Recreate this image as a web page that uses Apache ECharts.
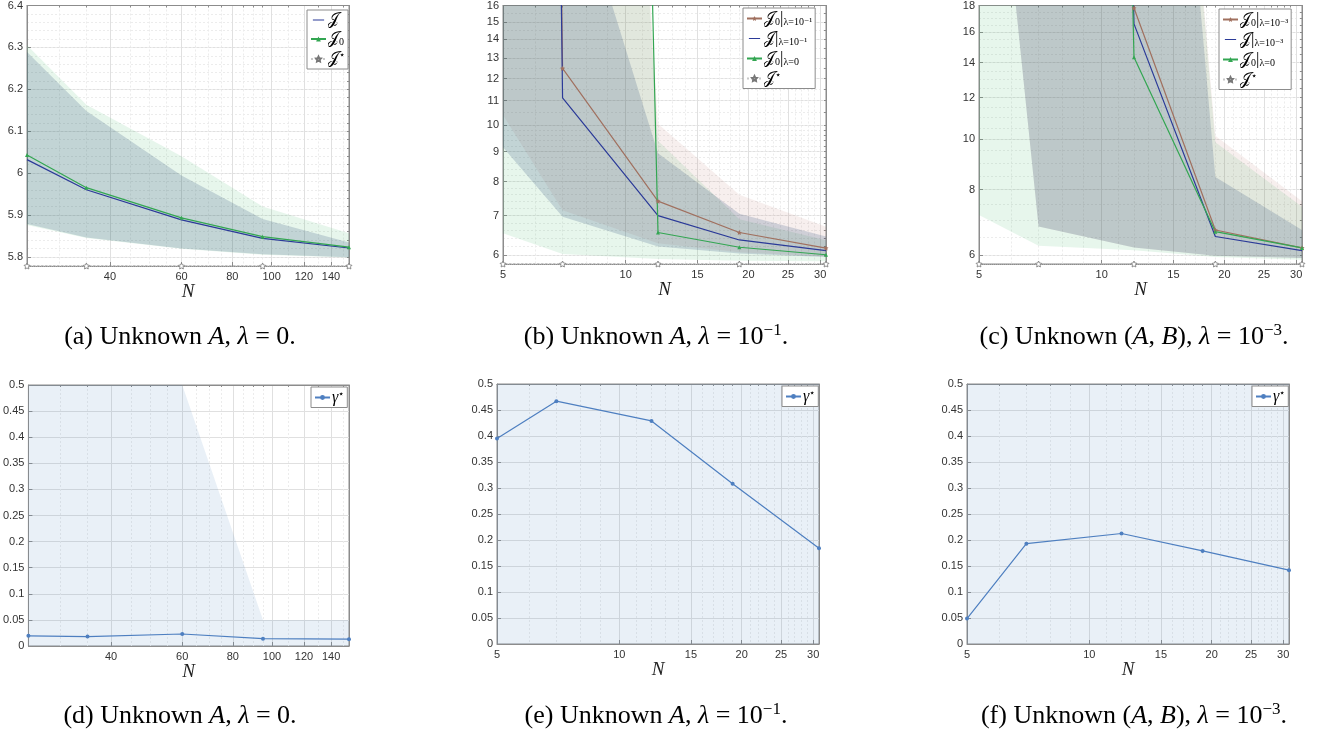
<!DOCTYPE html>
<html lang="en">
<head>
<meta charset="UTF-8">
<title>Cost versus N</title>
<script src="https://cdn.jsdelivr.net/npm/echarts@6/dist/echarts.min.js"></script>
<style>
    html, body { margin: 0; padding: 0; background: #fff; }
    #main { width: 1320px; height: 735px; }
</style>
</head>
<body>
<div id="main"></div>
<script type="text/javascript">
    // sample sizes N of each column
    var nA = [25, 35, 60, 95, 155];
    var nB = [5, 7, 12, 19, 31];
    var nC = [5, 7, 12, 19, 31];

    // (a) unknown A, lambda = 0
    var jA = [6.032, 5.960, 5.888, 5.844, 5.821];
    var j0A = [6.043, 5.965, 5.893, 5.848, 5.823];
    var jLoA = [5.878, 5.846, 5.820, 5.806, 5.799];
    var jHiA = [6.289, 6.148, 5.994, 5.890, 5.834];
    var j0LoA = [5.876, 5.845, 5.819, 5.805, 5.798];
    var j0HiA = [6.305, 6.163, 6.040, 5.920, 5.856];
    var jStarA = [5.778, 5.778, 5.778, 5.778, 5.778];

    // (b) unknown A, lambda = 1e-1 (values far above the axis are off-chart)
    var j0RegB = [1e9, 12.49, 7.41, 6.55, 6.16];
    var jRegB = [1e9, 11.12, 7.00, 6.36, 6.10];
    var j0B = [1e9, 5e7, 6.55, 6.18, 6.00];
    var j0RegLoB = [10.4, 7.15, 6.28, 6.06, 5.96];
    var j0RegHiB = [1e9, 4200, 10.05, 7.60, 6.70];
    var jRegLoB = [9.16, 6.97, 6.20, 6.03, 5.95];
    var jRegHiB = [1e9, 30, 8.95, 7.05, 6.45];
    var j0LoB = [6.53, 6.02, 5.90, 5.86, 5.85];
    var j0HiB = [1e9, 4200, 9.40, 6.90, 6.35];
    var jStarB = [5.786, 5.786, 5.786, 5.786, 5.786];

    // (c) unknown (A, B), lambda = 1e-3
    var j0RegC = [1e9, 1e9, 17.8, 6.70, 6.19];
    var jRegC = [1e9, 1e9, 16.6, 6.51, 6.12];
    var j0C = [1e9, 1e9, 14.34, 6.65, 6.19];
    var j0RegLoC = [87, 6.80, 6.20, 5.98, 5.92];
    var j0RegHiC = [1e5, 1e4, 600, 10.15, 7.60];
    var jRegLoC = [87, 6.80, 6.20, 5.98, 5.92];
    var jRegHiC = [1e5, 1e4, 490, 8.46, 6.70];
    var j0LoC = [7.16, 6.25, 6.13, 5.95, 5.88];
    var j0HiC = [1e4, 1e4, 600, 9.86, 7.42];
    var jStarC = [5.768, 5.768, 5.768, 5.768, 5.768];

    // (d)-(f) gamma star
    var gA = [0.0195, 0.018, 0.023, 0.014, 0.013];
    var gLoA = [0, 0, 0, 0, 0];
    var gHiA = [0.5, 0.5, 0.5, 0.05, 0.05];
    var gB = [0.395, 0.467, 0.429, 0.308, 0.184];
    var gLoB = [0, 0, 0, 0, 0];
    var gHiB = [0.5, 0.5, 0.5, 0.5, 0.5];
    var gC = [0.049, 0.193, 0.2125, 0.179, 0.142];
    var gLoC = [0, 0, 0, 0, 0];
    var gHiC = [0.5, 0.5, 0.5, 0.5, 0.5];

    // tick labels
    var xTicksA = [40, 60, 80, 100, 120, 140];
    var xMinorA = [30, 35, 45, 50, 55, 65, 70, 75, 85, 90, 95, 110, 130, 150];
    var xTicksB = [5, 10, 15, 20, 25, 30];
    var xMinorB = [6, 7, 8, 9, 11, 12, 13, 14, 16, 17, 18, 19, 21, 22, 23, 24, 26, 27, 28, 29, 31];
    var yTicksA = [5.8, 5.9, 6.0, 6.1, 6.2, 6.3, 6.4];
    var yTicksB = [6, 7, 8, 9, 10, 11, 12, 13, 14, 15, 16];
    var yTicksC = [6, 8, 10, 12, 14, 16, 18];
    var yTicksG = [0, 0.05, 0.1, 0.15, 0.2, 0.25, 0.3, 0.35, 0.4, 0.45, 0.5];

    var SERIF = '"Liberation Serif", "DejaVu Serif", serif';
    var SANS = '"Liberation Sans", Arial, sans-serif';
    var AX = '#8c8c8c', MAJ = '#e0e0e0', MIN = '#ececec';
    var C_J = '#2b3a98', C_J0 = '#33a652', C_REG = '#a0705f', C_G = '#4e7fc0';
    var F_J = 'rgba(30,60,110,0.18)', F_J0 = 'rgba(60,180,100,0.12)', F_REG = 'rgba(180,100,90,0.10)';
    var F_G = 'rgba(74,128,192,0.12)';
    var STAR = 'path://M0,-10L2.9,-4L9.5,-3.1L4.8,1.5L5.9,8.1L0,5L-5.9,8.1L-4.8,1.5L-9.5,-3.1L-2.9,-4Z';
    // legend icon for a plain line (thin bar in the middle of the icon box)
    var LINE_ICON = 'path://M0,3.2H15V4.8H0Z M0,0H0.01V0.01H0Z M0,8H0.01V8.01H0Z';

    function lg(v) { return Math.log10(v); }
    function id(v) { return v; }
    function steps(a, b, s) {
        var out = [];
        for (var v = a; v <= b + 1e-9; v += s) out.push(+v.toFixed(4));
        return out;
    }

    var panels = [
        {grid: {left: 27, top: 5, width: 322, height: 261}, xs: nA, xTicks: xTicksA, xMinor: xMinorA,
         logY: false, yMin: 5.778, yMax: 6.4, yTicks: yTicksA, yMinor: steps(5.78, 6.4, 0.02)},
        {grid: {left: 503, top: 4, width: 323, height: 260}, xs: nB, xTicks: xTicksB, xMinor: xMinorB,
         logY: true, yMin: 5.786, yMax: 16, yTicks: yTicksB, yMinor: steps(5.8, 10, 0.2).concat(steps(10.5, 16, 0.5))},
        {grid: {left: 979, top: 4, width: 323, height: 260}, xs: nC, xTicks: xTicksB, xMinor: xMinorB,
         logY: true, yMin: 5.768, yMax: 18, yTicks: yTicksC, yMinor: steps(6, 18, 0.5)},
        {grid: {left: 27, top: 385, width: 322, height: 261}, xs: nA, xTicks: xTicksA, xMinor: xMinorA,
         logY: false, yMin: 0, yMax: 0.5, yTicks: yTicksG, yMinor: []},
        {grid: {left: 497, top: 384, width: 322, height: 260}, xs: nB, xTicks: xTicksB, xMinor: xMinorB,
         logY: false, yMin: 0, yMax: 0.5, yTicks: yTicksG, yMinor: []},
        {grid: {left: 967, top: 384, width: 322, height: 260}, xs: nC, xTicks: xTicksB, xMinor: xMinorB,
         logY: false, yMin: 0, yMax: 0.5, yTicks: yTicksG, yMinor: []}
    ];

    var grids = [], xAxes = [], yAxes = [], series = [], legends = [];

    panels.forEach(function (p, i) {
        var fy = p.logY ? lg : id;
        grids.push(Object.assign({show: true, borderColor: AX, borderWidth: 1, containLabel: false}, p.grid));
        xAxes.push({
            gridIndex: i, type: 'value', position: 'bottom',
            min: lg(p.xs[0]), max: lg(p.xs[p.xs.length - 1]),
            axisLine: {onZero: false, lineStyle: {color: AX}},
            axisTick: {inside: true, length: 4, customValues: p.xTicks.map(lg), lineStyle: {color: AX}},
            axisLabel: {
                customValues: p.xTicks.map(lg), color: '#333', fontSize: 11, fontFamily: SANS, margin: 5,
                formatter: function (v) { return String(Math.round(Math.pow(10, v))); }
            },
            splitLine: {show: true, lineStyle: {color: MAJ, width: 1}},
            name: 'N', nameLocation: 'middle', nameGap: i < 3 ? 11 : 13,
            nameTextStyle: {fontFamily: SERIF, fontStyle: 'italic', fontSize: 19, color: '#222'}
        });
        xAxes.push({
            gridIndex: i, type: 'value', position: 'top',
            min: lg(p.xs[0]), max: lg(p.xs[p.xs.length - 1]),
            axisLine: {onZero: false, lineStyle: {color: AX}},
            axisTick: {inside: true, length: 2, customValues: p.xMinor.map(lg), lineStyle: {color: AX}},
            axisLabel: {show: false},
            splitLine: {show: true, lineStyle: {color: MIN, width: 1, type: [2, 2]}}
        });
        yAxes.push({
            gridIndex: i, type: 'value', position: 'left', min: fy(p.yMin), max: fy(p.yMax),
            axisLine: {onZero: false, lineStyle: {color: AX}},
            axisTick: {inside: true, length: 4, customValues: p.yTicks.map(fy), lineStyle: {color: AX}},
            axisLabel: {
                customValues: p.yTicks.map(fy), color: '#333', fontSize: 11, fontFamily: SANS, margin: 4,
                formatter: p.logY
                    ? function (v) { return String(Math.round(Math.pow(10, v))); }
                    : function (v) { return String(parseFloat(v.toFixed(2))); }
            },
            splitLine: {show: true, lineStyle: {color: MAJ, width: 1}}
        });
        yAxes.push({
            gridIndex: i, type: 'value', position: 'right', min: fy(p.yMin), max: fy(p.yMax),
            axisLine: {onZero: false, lineStyle: {color: AX}},
            axisTick: {inside: true, length: 2, customValues: p.yMinor.map(fy), lineStyle: {color: AX}},
            axisLabel: {show: false},
            splitLine: {show: true, lineStyle: {color: MIN, width: 1, type: [2, 2]}}
        });
    });

    function band(i, lo, hi, fill) {
        var p = panels[i], fy = p.logY ? lg : id;
        return {
            type: 'custom', xAxisIndex: 2 * i, yAxisIndex: 2 * i, clip: true, silent: true, z: 1,
            data: [[lg(p.xs[0]), fy(lo[0])]],
            renderItem: function (params, api) {
                var pts = [], k;
                for (k = 0; k < p.xs.length; k++) pts.push(api.coord([lg(p.xs[k]), fy(hi[k])]));
                for (k = p.xs.length - 1; k >= 0; k--) pts.push(api.coord([lg(p.xs[k]), fy(lo[k])]));
                return {type: 'polygon', shape: {points: pts}, style: {fill: fill}};
            }
        };
    }

    function line(i, name, ys, color, symbol, size, extra) {
        var p = panels[i], fy = p.logY ? lg : id;
        var s = {
            type: 'line', name: name, xAxisIndex: 2 * i, yAxisIndex: 2 * i, z: 3,
            data: p.xs.map(function (x, k) { return [lg(x), fy(ys[k])]; }),
            symbol: symbol, symbolSize: size, showSymbol: symbol !== 'none',
            lineStyle: {color: color, width: 1.2},
            itemStyle: {color: color},
            emphasis: {disabled: true}
        };
        return Object.assign(s, extra || {});
    }

    function starLine(i, name, ys) {
        return line(i, name, ys, '#b5b5b5', STAR, 6, {
            clip: false,
            lineStyle: {color: '#c8c8c8', width: 1, type: 'dotted'},
            itemStyle: {color: '#fff', borderColor: '#777', borderWidth: 0.8}
        });
    }

    // (a)
    series.push(band(0, j0LoA, j0HiA, F_J0), band(0, jLoA, jHiA, F_J));
    series.push(line(0, 'a_J', jA, C_J, 'none', 0),
                line(0, 'a_J0', j0A, C_J0, 'triangle', 4),
                starLine(0, 'a_Js', jStarA));
    // (b)
    series.push(band(1, j0LoB, j0HiB, F_J0), band(1, j0RegLoB, j0RegHiB, F_REG), band(1, jRegLoB, jRegHiB, F_J));
    series.push(line(1, 'b_J0r', j0RegB, C_REG, STAR, 5),
                line(1, 'b_Jr', jRegB, C_J, 'none', 0),
                line(1, 'b_J0', j0B, C_J0, 'triangle', 4),
                starLine(1, 'b_Js', jStarB));
    // (c)
    series.push(band(2, j0LoC, j0HiC, F_J0), band(2, j0RegLoC, j0RegHiC, F_REG), band(2, jRegLoC, jRegHiC, F_J));
    series.push(line(2, 'c_J0r', j0RegC, C_REG, STAR, 5),
                line(2, 'c_Jr', jRegC, C_J, 'none', 0),
                line(2, 'c_J0', j0C, C_J0, 'triangle', 4),
                starLine(2, 'c_Js', jStarC));
    // (d)-(f)
    series.push(band(3, gLoA, gHiA, F_G), line(3, 'd_g', gA, C_G, 'circle', 4));
    series.push(band(4, gLoB, gHiB, F_G), line(4, 'e_g', gB, C_G, 'circle', 4));
    series.push(band(5, gLoC, gHiC, F_G), line(5, 'f_g', gC, C_G, 'circle', 4));

    var LBL = {
        a_J: '{j|𝒥}', a_J0: '{j|𝒥}{sub|0}', a_Js: '{j|𝒥}{sup|⋆}',
        b_J0r: '{j|𝒥}{sub|0}{bar||}{sub|λ=10⁻¹}', b_Jr: '{j|𝒥}{bar||}{sub|λ=10⁻¹}',
        b_J0: '{j|𝒥}{sub|0}{bar||}{sub|λ=0}', b_Js: '{j|𝒥}{sup|⋆}',
        c_J0r: '{j|𝒥}{sub|0}{bar||}{sub|λ=10⁻³}', c_Jr: '{j|𝒥}{bar||}{sub|λ=10⁻³}',
        c_J0: '{j|𝒥}{sub|0}{bar||}{sub|λ=0}', c_Js: '{j|𝒥}{sup|⋆}',
        d_g: '{g|γ}{sup|⋆}', e_g: '{g|γ}{sup|⋆}', f_g: '{g|γ}{sup|⋆}'
    };
    var legendRich = {
        j: {fontFamily: SERIF, fontSize: 16, lineHeight: 17, color: '#000'},
        g: {fontFamily: SERIF, fontStyle: 'italic', fontSize: 16, lineHeight: 17, color: '#000'},
        sub: {fontFamily: SERIF, fontSize: 10, lineHeight: 10, verticalAlign: 'bottom', color: '#000'},
        sup: {fontFamily: SERIF, fontSize: 10, lineHeight: 10, verticalAlign: 'top', color: '#000'},
        bar: {fontFamily: SERIF, fontSize: 17, lineHeight: 17, color: '#000'}
    };
    function legend(names, left, top) {
        return {
            data: names.map(function (n) {
                // plain lines get a bare line icon, marked lines keep line + marker
                return /_Jr?$/.test(n) ? {name: n, icon: LINE_ICON} : {name: n};
            }),
            orient: 'vertical', left: left, top: top,
            backgroundColor: '#fff', borderColor: '#8c8c8c', borderWidth: 1, borderRadius: 0,
            padding: [2, 3, 2, 3], itemGap: 3, itemWidth: 15, itemHeight: 6, selectedMode: false,
            formatter: function (n) { return LBL[n]; },
            textStyle: {rich: legendRich, padding: [0, 0, 0, -3]}
        };
    }
    legends.push(legend(['a_J', 'a_J0', 'a_Js'], 307, 10),
                 legend(['b_J0r', 'b_Jr', 'b_J0', 'b_Js'], 743, 8),
                 legend(['c_J0r', 'c_Jr', 'c_J0', 'c_Js'], 1219, 9),
                 legend(['d_g'], 311, 387),
                 legend(['e_g'], 782, 386),
                 legend(['f_g'], 1252, 386));

    var capRich = {
        t: {fontFamily: SERIF, fontSize: 26, lineHeight: 30, fill: '#000', color: '#000'},
        i: {fontFamily: SERIF, fontStyle: 'italic', fontSize: 26, lineHeight: 30, fill: '#000', color: '#000'},
        sup: {fontFamily: SERIF, fontSize: 17, lineHeight: 17, verticalAlign: 'top', fill: '#000', color: '#000'}
    };
    var captions = [
        {x: 180, y: 337, text: '{t|(a) Unknown }{i|A}{t|, }{i|λ}{t| = 0.}'},
        {x: 656, y: 337, text: '{t|(b) Unknown }{i|A}{t|, }{i|λ}{t| = 10}{sup|−1}{t|.}'},
        {x: 1134, y: 337, text: '{t|(c) Unknown (}{i|A}{t|, }{i|B}{t|), }{i|λ}{t| = 10}{sup|−3}{t|.}'},
        {x: 180, y: 716, text: '{t|(d) Unknown }{i|A}{t|, }{i|λ}{t| = 0.}'},
        {x: 656, y: 716, text: '{t|(e) Unknown }{i|A}{t|, }{i|λ}{t| = 10}{sup|−1}{t|.}'},
        {x: 1134, y: 716, text: '{t|(f) Unknown (}{i|A}{t|, }{i|B}{t|), }{i|λ}{t| = 10}{sup|−3}{t|.}'}
    ];

    var myChart = echarts.init(document.getElementById('main'), null, {renderer: 'canvas'});
    myChart.setOption({
        animation: false,
        backgroundColor: '#fff',
        grid: grids,
        xAxis: xAxes,
        yAxis: yAxes,
        legend: legends,
        series: series,
        graphic: captions.map(function (c) {
            return {
                type: 'text', x: c.x, y: c.y, silent: true,
                style: {text: c.text, rich: capRich, align: 'center', verticalAlign: 'middle',
                        fontFamily: SERIF, fontSize: 26, fill: '#000'}
            };
        })
    });
</script>
</body>
</html>
